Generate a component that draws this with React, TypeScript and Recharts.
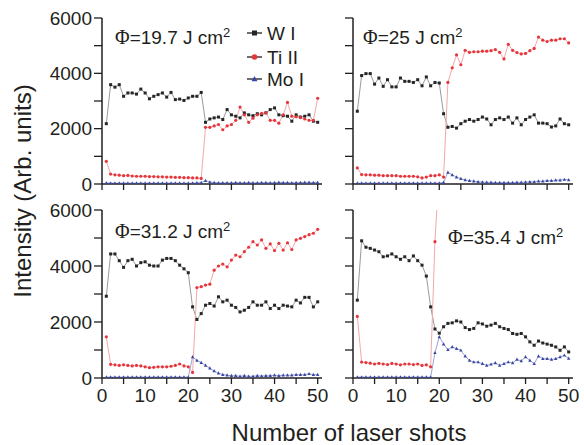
import React from 'react';
import { LineChart, Line, XAxis, YAxis } from 'recharts';

// shot index (x)
const shots = [
  1, 2, 3, 4, 5, 6, 7, 8, 9, 10, 11, 12, 13, 14, 15, 16, 17, 18, 19, 20, 21, 22, 23, 24, 25,
  26, 27, 28, 29, 30, 31, 32, 33, 34, 35, 36, 37, 38, 39, 40, 41, 42, 43, 44, 45, 46, 47, 48, 49, 50,
];

const xTicks = [0, 5, 10, 15, 20, 25, 30, 35, 40, 45, 50];
const yTicks = [0, 1000, 2000, 3000, 4000, 5000, 6000];

// Φ = 19.7 J cm2
const wA = [2180, 3590, 3500, 3590, 3170, 3290, 3290, 3250, 3430, 3290, 3080, 3170, 3230, 3290, 3140, 3310, 3050, 3070, 3020, 3110, 3170, 3170, 3310,
  2230, 2350, 2390, 2420, 2330, 2690, 2500, 2450, 2390, 2570, 2500, 2470, 2540, 2500, 2570, 2690, 2750, 2500, 2470, 2450, 2270, 2500, 2420, 2450, 2500, 2270, 2230];
const tiA = [820, 360, 330, 320, 300, 310, 290, 280, 280, 280, 270, 270, 260, 260, 250, 250, 240, 240, 230, 230, 220, 220, 200,
  2050, 2050, 2100, 2150, 1960, 2100, 2150, 2300, 2780, 2500, 2230, 2380, 2500, 2550, 2580, 2300, 2300, 2200, 2500, 2950, 2450, 2430, 2400, 2350, 2300, 2300, 3100];
const moA = [40, 30, 30, 30, 30, 30, 30, 30, 30, 30, 30, 30, 30, 30, 30, 30, 30, 30, 30, 30, 30, 40, 50,
  120, 70, 50, 40, 40, 40, 40, 50, 40, 40, 50, 40, 40, 50, 50, 40, 50, 60, 50, 50, 40, 50, 50, 60, 60, 50, 60];

// Φ = 25 J cm2
const wB = [2630, 3920, 3990, 3990, 3610, 3830, 3530, 3770, 3510, 3510, 3830, 3710, 3710, 3670, 3770, 3550, 3870, 3550, 3670, 3650,
  2540, 2050, 2080, 2020, 2180, 2270, 2330, 2270, 2330, 2420, 2350, 2140, 2330, 2390, 2330, 2420, 2200, 2390, 2140, 2330, 2420, 2500, 2200, 2200, 2180, 2060, 2100, 2350, 2180, 2140];
const tiB = [580, 340, 330, 330, 320, 320, 300, 300, 300, 300, 280, 280, 280, 280, 260, 220, 250, 300, 300, 330, 250,
  3670, 4200, 4670, 4310, 4830, 4760, 4780, 4780, 4800, 4800, 4820, 4860, 4760, 4520, 5050, 4830, 4750, 4700, 4720, 4820, 4900, 5310, 5200, 5150, 5200, 5200, 5250, 5250, 5100];
const moB = [30, 30, 30, 30, 30, 30, 30, 30, 30, 30, 30, 30, 30, 30, 30, 30, 30, 30, 30, 30, 60,
  420, 330, 250, 190, 150, 120, 100, 80, 70, 60, 60, 50, 50, 50, 50, 50, 60, 60, 70, 80, 80, 100, 100, 120, 120, 140, 140, 160, 150];

// Φ = 31.2 J cm2
const wC = [2920, 4430, 4430, 4190, 3950, 4190, 4240, 4000, 4120, 4150, 4030, 4000, 4000, 4210, 4270, 4270, 4190, 4030, 3900, 3760,
  2540, 2090, 2300, 2600, 2660, 2570, 2900, 2720, 2780, 2600, 2520, 2360, 2420, 2520, 2720, 2600, 2600, 2720, 2480, 2600, 2480, 2600, 2570, 2540, 2780, 2680, 2880, 2880, 2540, 2720];
const tiC = [1470, 490, 470, 450, 470, 450, 430, 450, 430, 400, 370, 380, 400, 400, 400, 420, 450, 500, 430, 400, 200,
  3230, 3260, 3320, 3350, 3850, 4000, 4070, 3970, 4210, 4390, 4330, 4510, 4670, 4870, 4750, 4930, 4630, 4790, 4550, 4810, 4570, 4830, 4590, 4930, 4990, 5050, 5120, 5170, 5310];
const moC = [30, 30, 30, 30, 30, 30, 30, 30, 30, 30, 30, 30, 30, 30, 30, 30, 30, 30, 30, 30,
  750, 630, 550, 450, 350, 250, 170, 120, 100, 80, 80, 60, 80, 60, 60, 80, 70, 80, 80, 100, 80, 100, 100, 100, 120, 120, 120, 150, 120, 120];

// Φ = 35.4 J cm2
const wD = [2780, 4900, 4670, 4630, 4570, 4510, 4330, 4360, 4430, 4330, 4240, 4330, 4190, 4360, 4190, 4030,
  3640, 2540, 1750, 1600, 1830,
  1950, 1970, 2040, 2000, 1800, 1730, 1770, 1970, 1930, 1850, 1890, 1950, 1830, 1770, 1730, 1590, 1560, 1590, 1470, 1290, 1170, 1320, 1250, 1210, 1170, 1110, 990, 1110, 930];
const tiD = [2200, 570, 550, 530, 500, 520, 500, 480, 520, 500, 470, 500, 500, 480, 500, 450, 470, 400, 4870, 7500,
  null, null, null, null, null, null, null, null, null, null, null, null, null, null, null,
  null, null, null, null, null, null, null, null, null, null, null, null, null, null, null];
const moD = [30, 30, 30, 30, 30, 30, 30, 30, 30, 30, 30, 30, 30, 30, 30, 30, 30, 30, 900,
  1470, 1210, 1010, 1110, 1050, 990, 780, 630, 570, 570, 510, 450, 490, 540, 450, 510, 570, 540, 660, 610, 750, 630, 510, 780, 690, 690, 660, 690, 750, 810, 700];

const INK = '#231f20';
const FONT = '"Liberation Sans", Arial, sans-serif';
const W_DOT = '#262626';
const W_LINE = '#9a9a9a';
const TI_DOT = '#e5363c';
const TI_LINE = '#f4a6ab';
const MO_DOT = '#3a48a3';
const MO_LINE = '#9ba2d2';

const TOP_PAD = 14;

function buildRows(w: (number | null)[], ti: (number | null)[], mo: (number | null)[]) {
  return shots.map((shot, i) => ({ shot, w: w[i], ti: ti[i], mo: mo[i] }));
}

const squareDot = (props: any) => {
  const { cx, cy, index } = props;
  if (cx == null || cy == null) return <g key={`s${index}`} />;
  return <rect key={`s${index}`} x={cx - 1.5} y={cy - 1.5} width={3} height={3} fill={W_DOT} />;
};

const circleDot = (props: any) => {
  const { cx, cy, index } = props;
  if (cx == null || cy == null) return <g key={`c${index}`} />;
  return <circle key={`c${index}`} cx={cx} cy={cy} r={1.6} fill={TI_DOT} />;
};

const triDot = (props: any) => {
  const { cx, cy, index } = props;
  if (cx == null || cy == null) return <g key={`t${index}`} />;
  return <path key={`t${index}`} d={`M${cx},${cy - 1.9}L${cx + 1.7},${cy + 1.3}L${cx - 1.7},${cy + 1.3}Z`} fill={MO_DOT} />;
};

interface PanelProps {
  rows: ReturnType<typeof buildRows>;
  plotLeft: number;
  plotTop: number;
  plotHeight: number;
  yLabels: boolean;
  xLabels: boolean;
}

function Panel({ rows, plotLeft, plotTop, plotHeight, yLabels, xLabels }: PanelProps) {
  const yw = yLabels ? 102 : 12;
  const xh = xLabels ? 32 : 10;
  const axisLine = { stroke: INK, strokeWidth: 1.5 };
  const tickLine = { stroke: INK, strokeWidth: 1.3 };
  const tickStyle = { fontSize: 19, fill: INK, fontFamily: FONT };
  return (
    <div style={{ position: 'absolute', left: plotLeft - yw, top: plotTop - TOP_PAD }}>
      <LineChart
        width={yw + 220 + 6}
        height={TOP_PAD + plotHeight + xh}
        data={rows}
        margin={{ top: TOP_PAD, right: 6, bottom: 0, left: 0 }}
      >
        <XAxis
          dataKey="shot"
          type="number"
          domain={[0, 51]}
          ticks={xTicks}
          allowDataOverflow
          height={xh}
          axisLine={axisLine}
          tickLine={tickLine}
          tickSize={6}
          tickMargin={5}
          tick={tickStyle}
          interval={0}
          tickFormatter={(v: number) => (xLabels && v % 10 === 0 ? String(v) : '')}
        />
        <XAxis
          xAxisId="frame"
          orientation="top"
          type="number"
          domain={[0, 51]}
          height={0}
          tick={false}
          tickLine={false}
          axisLine={axisLine}
        />
        <YAxis
          type="number"
          domain={[0, 6000]}
          ticks={yTicks}
          allowDataOverflow
          width={yw}
          axisLine={axisLine}
          tickLine={tickLine}
          tickSize={8}
          tickMargin={2}
          tick={tickStyle}
          interval={0}
          tickFormatter={(v: number) => (yLabels && v % 2000 === 0 ? String(v) : '')}
        />
        <YAxis
          yAxisId="frame"
          orientation="right"
          domain={[0, 6000]}
          width={0}
          tick={false}
          tickLine={false}
          axisLine={axisLine}
        />
        <Line type="linear" dataKey="w" stroke={W_LINE} strokeWidth={1} dot={squareDot} activeDot={false} isAnimationActive={false} />
        <Line type="linear" dataKey="ti" stroke={TI_LINE} strokeWidth={1} dot={circleDot} activeDot={false} isAnimationActive={false} />
        <Line type="linear" dataKey="mo" stroke={MO_LINE} strokeWidth={1} dot={triDot} activeDot={false} isAnimationActive={false} />
      </LineChart>
    </div>
  );
}

function Fluence({ value, left, top }: { value: string; left: number; top: number }) {
  return (
    <div
      style={{
        position: 'absolute',
        left,
        top: top - 11,
        fontFamily: FONT,
        fontSize: 19,
        lineHeight: '22px',
        color: INK,
        whiteSpace: 'nowrap',
      }}
    >
      <span style={{ fontFamily: '"Liberation Serif", serif', fontSize: 20 }}>Φ</span>={value} J cm
      <span style={{ fontSize: 13, verticalAlign: 7 }}>2</span>
    </div>
  );
}

function SeriesLegend() {
  const rows = [
    { label: 'W I', y: 13, kind: 'square' },
    { label: 'Ti II', y: 37, kind: 'circle' },
    { label: 'Mo I', y: 59, kind: 'tri' },
  ];
  return (
    <svg width={90} height={72} style={{ position: 'absolute', left: 245, top: 20 }}>
      {rows.map((r) => (
        <g key={r.label}>
          <line x1={2} x2={17} y1={r.y} y2={r.y} stroke={INK} strokeWidth={1.3} />
          {r.kind === 'square' && <rect x={7} y={r.y - 2.5} width={5} height={5} fill={W_DOT} />}
          {r.kind === 'circle' && <circle cx={9.5} cy={r.y} r={2.8} fill={TI_DOT} />}
          {r.kind === 'tri' && <path d={`M9.5,${r.y - 3}L12.5,${r.y + 2.2}L6.5,${r.y + 2.2}Z`} fill={MO_DOT} />}
          <text x={22} y={r.y} dominantBaseline="central" fontSize={19} fontFamily={FONT} fill={INK}>
            {r.label}
          </text>
        </g>
      ))}
    </svg>
  );
}

export default function App() {
  return (
    <div style={{ position: 'absolute', left: 0, top: 0, width: 584, height: 445, background: '#fff', overflow: 'hidden' }}>
      <Panel rows={buildRows(wA, tiA, moA)} plotLeft={102} plotTop={18} plotHeight={166} yLabels xLabels={false} />
      <Panel rows={buildRows(wB, tiB, moB)} plotLeft={353} plotTop={18} plotHeight={166} yLabels={false} xLabels={false} />
      <Panel rows={buildRows(wC, tiC, moC)} plotLeft={102} plotTop={210} plotHeight={168} yLabels xLabels />
      <Panel rows={buildRows(wD, tiD, moD)} plotLeft={353} plotTop={210} plotHeight={168} yLabels={false} xLabels />

      <Fluence value="19.7" left={115} top={33} />
      <Fluence value="25" left={363} top={33} />
      <Fluence value="31.2" left={115} top={227} />
      <Fluence value="35.4" left={448} top={233} />
      <SeriesLegend />

      <div
        style={{
          position: 'absolute',
          left: 349,
          top: 433,
          transform: 'translate(-50%, -50%)',
          fontFamily: FONT,
          fontSize: 24,
          color: INK,
          whiteSpace: 'nowrap',
        }}
      >
        Number of laser shots
      </div>
      <div
        style={{
          position: 'absolute',
          left: 23,
          top: 191,
          transform: 'translate(-50%, -50%) rotate(-90deg)',
          fontFamily: FONT,
          fontSize: 24,
          color: INK,
          whiteSpace: 'nowrap',
        }}
      >
        Intensity (Arb. units)
      </div>
    </div>
  );
}
